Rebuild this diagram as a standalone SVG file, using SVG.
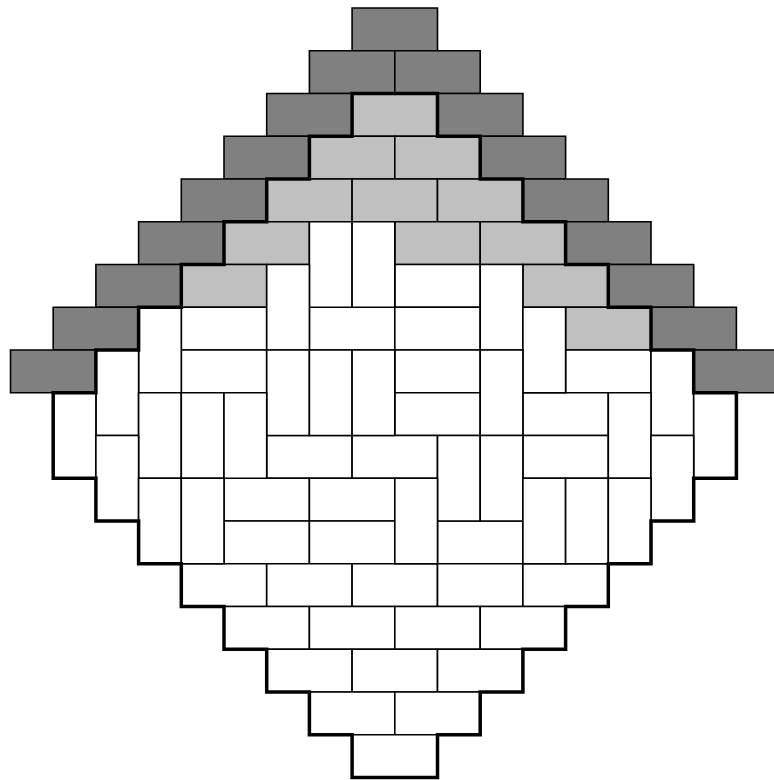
<svg xmlns="http://www.w3.org/2000/svg" width="774" height="780" viewBox="0 0 774 780">
<style>
rect{stroke:#000;stroke-width:1.6;vector-effect:non-scaling-stroke}
.d{fill:#808080}
.l{fill:#c0c0c0}
.w{fill:#fff}
.outline{fill:none;stroke:#000;stroke-width:3.5;stroke-linejoin:miter;vector-effect:non-scaling-stroke}
</style>
<rect x="0" y="0" width="774" height="780" fill="#fff" style="stroke:none"/>
<g transform="translate(10.5,8) scale(42.7,42.75)">
<g id="dark">
<rect class="d" x="8" y="0" width="2" height="1"/>
<rect class="d" x="7" y="1" width="2" height="1"/>
<rect class="d" x="9" y="1" width="2" height="1"/>
<rect class="d" x="6" y="2" width="2" height="1"/>
<rect class="d" x="10" y="2" width="2" height="1"/>
<rect class="d" x="5" y="3" width="2" height="1"/>
<rect class="d" x="11" y="3" width="2" height="1"/>
<rect class="d" x="4" y="4" width="2" height="1"/>
<rect class="d" x="12" y="4" width="2" height="1"/>
<rect class="d" x="3" y="5" width="2" height="1"/>
<rect class="d" x="13" y="5" width="2" height="1"/>
<rect class="d" x="2" y="6" width="2" height="1"/>
<rect class="d" x="14" y="6" width="2" height="1"/>
<rect class="d" x="1" y="7" width="2" height="1"/>
<rect class="d" x="15" y="7" width="2" height="1"/>
<rect class="d" x="0" y="8" width="2" height="1"/>
<rect class="d" x="16" y="8" width="2" height="1"/>
</g>
<g id="light">
<rect class="l" x="8" y="2" width="2" height="1"/>
<rect class="l" x="7" y="3" width="2" height="1"/>
<rect class="l" x="9" y="3" width="2" height="1"/>
<rect class="l" x="6" y="4" width="2" height="1"/>
<rect class="l" x="8" y="4" width="2" height="1"/>
<rect class="l" x="10" y="4" width="2" height="1"/>
<rect class="l" x="5" y="5" width="2" height="1"/>
<rect class="l" x="9" y="5" width="2" height="1"/>
<rect class="l" x="11" y="5" width="2" height="1"/>
<rect class="l" x="4" y="6" width="2" height="1"/>
<rect class="l" x="12" y="6" width="2" height="1"/>
<rect class="l" x="13" y="7" width="2" height="1"/>
</g>
<g id="white-horizontal">
<rect class="w" x="9" y="6" width="2" height="1"/>
<rect class="w" x="4" y="7" width="2" height="1"/>
<rect class="w" x="7" y="7" width="2" height="1"/>
<rect class="w" x="9" y="7" width="2" height="1"/>
<rect class="w" x="4" y="8" width="2" height="1"/>
<rect class="w" x="9" y="8" width="2" height="1"/>
<rect class="w" x="13" y="8" width="2" height="1"/>
<rect class="w" x="9" y="9" width="2" height="1"/>
<rect class="w" x="12" y="9" width="2" height="1"/>
<rect class="w" x="6" y="10" width="2" height="1"/>
<rect class="w" x="8" y="10" width="2" height="1"/>
<rect class="w" x="12" y="10" width="2" height="1"/>
<rect class="w" x="5" y="11" width="2" height="1"/>
<rect class="w" x="7" y="11" width="2" height="1"/>
<rect class="w" x="5" y="12" width="2" height="1"/>
<rect class="w" x="7" y="12" width="2" height="1"/>
<rect class="w" x="10" y="12" width="2" height="1"/>
<rect class="w" x="4" y="13" width="2" height="1"/>
<rect class="w" x="6" y="13" width="2" height="1"/>
<rect class="w" x="8" y="13" width="2" height="1"/>
<rect class="w" x="10" y="13" width="2" height="1"/>
<rect class="w" x="12" y="13" width="2" height="1"/>
<rect class="w" x="5" y="14" width="2" height="1"/>
<rect class="w" x="7" y="14" width="2" height="1"/>
<rect class="w" x="9" y="14" width="2" height="1"/>
<rect class="w" x="11" y="14" width="2" height="1"/>
<rect class="w" x="6" y="15" width="2" height="1"/>
<rect class="w" x="8" y="15" width="2" height="1"/>
<rect class="w" x="10" y="15" width="2" height="1"/>
<rect class="w" x="7" y="16" width="2" height="1"/>
<rect class="w" x="9" y="16" width="2" height="1"/>
<rect class="w" x="8" y="17" width="2" height="1"/>
</g>
<g id="white-vertical">
<rect class="w" x="7" y="5" width="1" height="2"/>
<rect class="w" x="8" y="5" width="1" height="2"/>
<rect class="w" x="6" y="6" width="1" height="2"/>
<rect class="w" x="11" y="6" width="1" height="2"/>
<rect class="w" x="3" y="7" width="1" height="2"/>
<rect class="w" x="12" y="7" width="1" height="2"/>
<rect class="w" x="2" y="8" width="1" height="2"/>
<rect class="w" x="6" y="8" width="1" height="2"/>
<rect class="w" x="7" y="8" width="1" height="2"/>
<rect class="w" x="8" y="8" width="1" height="2"/>
<rect class="w" x="11" y="8" width="1" height="2"/>
<rect class="w" x="15" y="8" width="1" height="2"/>
<rect class="w" x="1" y="9" width="1" height="2"/>
<rect class="w" x="3" y="9" width="1" height="2"/>
<rect class="w" x="4" y="9" width="1" height="2"/>
<rect class="w" x="5" y="9" width="1" height="2"/>
<rect class="w" x="14" y="9" width="1" height="2"/>
<rect class="w" x="16" y="9" width="1" height="2"/>
<rect class="w" x="2" y="10" width="1" height="2"/>
<rect class="w" x="10" y="10" width="1" height="2"/>
<rect class="w" x="11" y="10" width="1" height="2"/>
<rect class="w" x="15" y="10" width="1" height="2"/>
<rect class="w" x="3" y="11" width="1" height="2"/>
<rect class="w" x="4" y="11" width="1" height="2"/>
<rect class="w" x="9" y="11" width="1" height="2"/>
<rect class="w" x="12" y="11" width="1" height="2"/>
<rect class="w" x="13" y="11" width="1" height="2"/>
<rect class="w" x="14" y="11" width="1" height="2"/>
</g>
<path id="outline" class="outline" d="M8 2H10V3H11V4H12V5H13V6H14V7H15V8H16V9H17V11H16V12H15V13H14V14H13V15H12V16H11V17H10V18H8V17H7V16H6V15H5V14H4V13H3V12H2V11H1V9H2V8H3V7H4V6H5V5H6V4H7V3H8Z"/>
</g>
</svg>
